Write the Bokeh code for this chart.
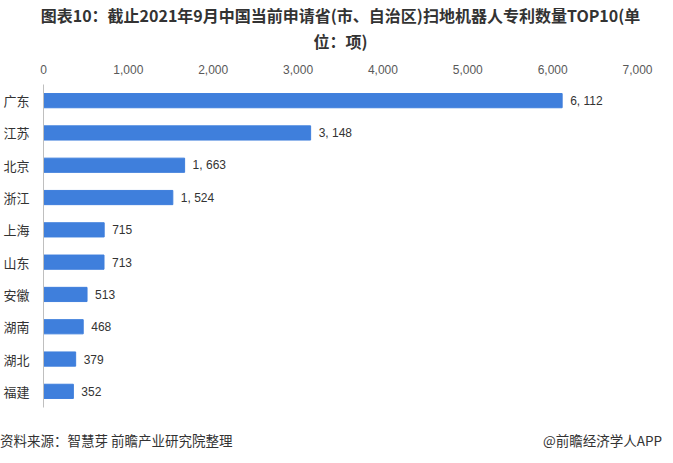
from bokeh.plotting import figure
from bokeh.layouts import column
from bokeh.models import Title, Div, ColumnDataSource, NumeralTickFormatter, FixedTicker, Range1d
from bokeh.embed import file_html
from bokeh.resources import INLINE
from bokeh.core.properties import value

categories = ["广东", "江苏", "北京", "浙江", "上海", "山东", "安徽", "湖南", "湖北", "福建"]
values = [6112, 3148, 1663, 1524, 715, 713, 513, 468, 379, 352]
ticks = [0, 1000, 2000, 3000, 4000, 5000, 6000, 7000]
title_line1 = "图表10：截止2021年9月中国当前申请省(市、自治区)扫地机器人专利数量TOP10(单"
title_line2 = "位：项)"
source_note = "资料来源：智慧芽 前瞻产业研究院整理"
brand_note = "@前瞻经济学人APP"

labels = ["{:,}".format(v).replace(",", ", ") for v in values]
src = ColumnDataSource(dict(cat=categories, val=values, lab=labels))

p = figure(width=657, height=412, y_range=list(reversed(categories)),
           x_range=Range1d(0, 7000), x_axis_location="above",
           output_backend="svg", toolbar_location=None,
           min_border_left=39, min_border_right=20, min_border_bottom=5, min_border_top=76)
p.outline_line_color = None
p.grid.grid_line_color = None

p.hbar(y="cat", right="val", height=0.44, color="#3F7FDC", source=src)
p.text(x="val", y="cat", text="lab", source=src, x_offset=8,
       text_baseline="middle", text_align="left", text_font_size="12px",
       text_color="#333333", text_font=value("Liberation Sans"))

xa = p.xaxis[0]
xa.ticker = FixedTicker(ticks=ticks)
xa.formatter = NumeralTickFormatter(format="0,0")
xa.axis_line_color = None
xa.major_tick_line_color = None
xa.minor_tick_line_color = None
xa.major_label_text_font_size = "12px"
xa.major_label_text_color = "#595959"
xa.major_label_text_font = "Liberation Sans"
xa.major_label_standoff = 5
xa.axis_label = " "
xa.axis_label_text_font_size = "5px"
xa.axis_label_standoff = 0

ya = p.yaxis[0]
ya.axis_line_color = "#BFBFBF"
ya.major_tick_line_color = None
ya.minor_tick_line_color = None
ya.major_label_text_font_size = "13px"
ya.major_label_text_color = "#333333"
ya.major_label_text_font = "Noto Sans CJK SC"
ya.major_label_standoff = 8

p.title = None
p.add_layout(Title(text=title_line2, align="center", text_font_size="16px",
                   text_font="Noto Sans CJK SC", text_font_style="bold",
                   text_color="#333333", standoff=0, offset=0,
                   text_line_height=1.0), "above")
p.add_layout(Title(text=title_line1, align="center", text_font_size="16px",
                   text_font="Noto Sans CJK SC", text_font_style="bold",
                   text_color="#333333", standoff=0, offset=0,
                   text_line_height=1.0), "above")

footer_html = (
    '<div style="display:flex;justify-content:space-between;width:662px;'
    'font-family:\'Noto Sans CJK SC\';font-size:13.5px;color:#333333;line-height:16px;padding-top:20px;">'
    '<span>' + source_note + '</span><span>' + brand_note + '</span></div>'
)
footer = Div(text=footer_html, width=657, height=35, margin=0)

open("out.html", "w").write(file_html(column(p, footer, spacing=0), INLINE))
